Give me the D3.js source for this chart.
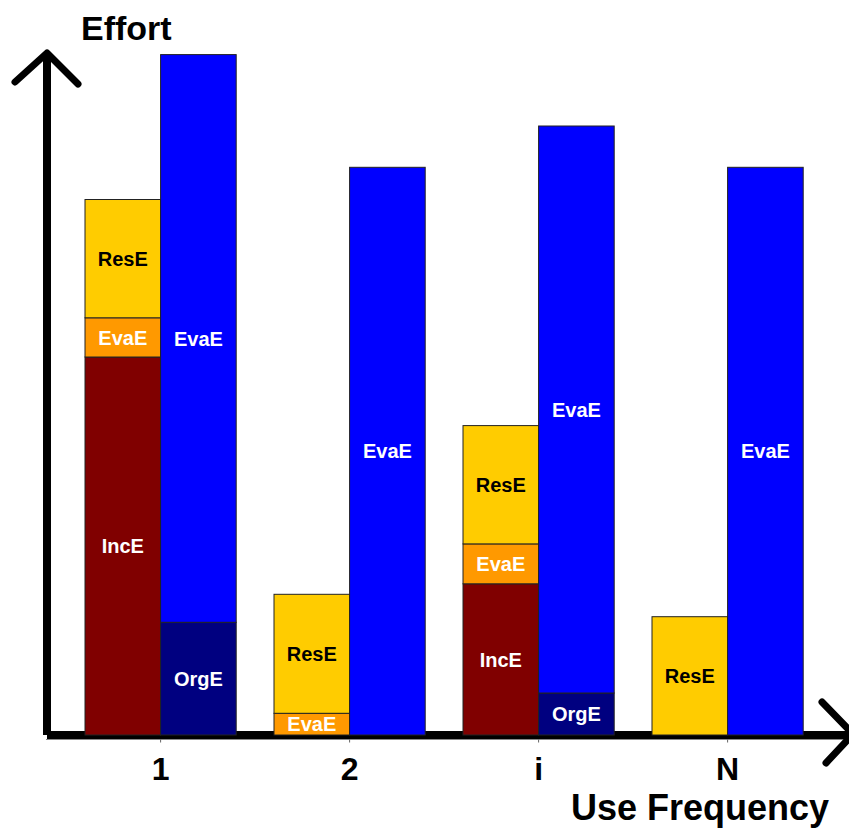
<!DOCTYPE html>
<html><head><meta charset="utf-8">
<script src="https://cdn.jsdelivr.net/npm/d3@7"></script>
<style>html,body{margin:0;padding:0;background:#fff;}svg{display:block;}</style>
</head><body>
<script>
const categories = ["1", "2", "i", "N"];
// left stacked bar (bottom to top)
const leftIncE = [54, 0, 21.6, 0];
const leftEvaE = [5.6, 3.1, 5.7, 0];
const leftResE = [16.9, 17, 16.9, 16.9];
// right stacked bar (bottom to top)
const rightOrgE = [16.1, 0, 6, 0];
const rightEvaE = [81.1, 81.1, 81, 81.1];
const yTitle = "Effort";
const xTitle = "Use Frequency";

const W = 849, H = 828;
const font = "'Liberation Sans', Arial, Helvetica, sans-serif";
const svg = d3.select("body").append("svg").attr("width", W).attr("height", H);

const x = d3.scaleBand().domain(categories).range([66.1, 822.1]).paddingInner(0.2).paddingOuter(0.1);
const xi = d3.scaleBand().domain(["L", "R"]).range([0, x.bandwidth()]);
const y = d3.scaleLinear().domain([0, 100]).range([735, 35]);

const colors = {IncE: "#800000", EvaEo: "#FF9900", ResE: "#FFCC00", OrgE: "#000080", EvaEb: "#0000FF"};

const segs = [];
categories.forEach((c, i) => {
  let b = 0;
  [["IncE", leftIncE[i], "IncE", "#fff"], ["EvaEo", leftEvaE[i], "EvaE", "#fff"], ["ResE", leftResE[i], "ResE", "#000"]].forEach(([k, v, lab, tc]) => {
    if (v > 0) segs.push({c, side: "L", y0: b, y1: b + v, color: colors[k], lab, tc});
    b += v;
  });
  b = 0;
  [["OrgE", rightOrgE[i], "OrgE", "#fff"], ["EvaEb", rightEvaE[i], "EvaE", "#fff"]].forEach(([k, v, lab, tc]) => {
    if (v > 0) segs.push({c, side: "R", y0: b, y1: b + v, color: colors[k], lab, tc});
    b += v;
  });
});

// thin gray domain line + small ticks under the axis
const xAxis = d3.axisBottom(x).tickSize(3).tickSizeOuter(0).tickFormat("");
const ax = svg.append("g").attr("transform", "translate(0,739.5)").call(xAxis);
ax.select(".domain").attr("stroke", "#888").attr("stroke-width", 1).attr("d", "M46,0H849");
ax.selectAll("line").attr("stroke", "#666").attr("stroke-width", 1);

// x axis line (behind bars)
svg.append("line").attr("x1", 47).attr("x2", 852).attr("y1", 735).attr("y2", 735)
  .attr("stroke", "#000").attr("stroke-width", 8);

const g = svg.append("g");
g.selectAll("rect").data(segs).join("rect")
  .attr("x", d => x(d.c) + xi(d.side))
  .attr("width", xi.bandwidth())
  .attr("y", d => y(d.y1))
  .attr("height", d => y(d.y0) - y(d.y1))
  .attr("fill", d => d.color)
  .attr("stroke", "#222").attr("stroke-width", 1);

g.selectAll("text").data(segs).join("text")
  .attr("x", d => x(d.c) + xi(d.side) + xi.bandwidth() / 2)
  .attr("y", d => (y(d.y0) + y(d.y1)) / 2)
  .attr("dy", "0.36em")
  .attr("text-anchor", "middle")
  .attr("font-family", font).attr("font-weight", "bold").attr("font-size", 20)
  .attr("fill", d => d.tc)
  .text(d => d.lab);

// y axis with arrow
svg.append("path").attr("d", "M47,54 L47,735")
  .attr("stroke", "#000").attr("stroke-width", 8).attr("fill", "none");
svg.append("path").attr("d", "M15,82 L47,53 L78,84")
  .attr("fill", "none").attr("stroke", "#000").attr("stroke-width", 7)
  .attr("stroke-linecap", "round").attr("stroke-linejoin", "round");
// x arrow head
svg.append("path").attr("d", "M822,702 L853,734 L826,763")
  .attr("fill", "none").attr("stroke", "#000").attr("stroke-width", 7)
  .attr("stroke-linecap", "round").attr("stroke-linejoin", "round");

// category labels
svg.append("g").selectAll("text").data(categories).join("text")
  .attr("x", d => x(d) + x.bandwidth() / 2)
  .attr("y", 780)
  .attr("text-anchor", "middle")
  .attr("font-family", font).attr("font-weight", "bold").attr("font-size", 32)
  .text(d => d);

svg.append("text").attr("x", 829).attr("y", 820).attr("text-anchor", "end")
  .attr("font-family", font).attr("font-weight", "bold").attr("font-size", 36)
  .text(xTitle);
svg.append("text").attr("x", 81).attr("y", 40)
  .attr("font-family", font).attr("font-weight", "bold").attr("font-size", 34)
  .text(yTitle);
</script>
</body></html>
